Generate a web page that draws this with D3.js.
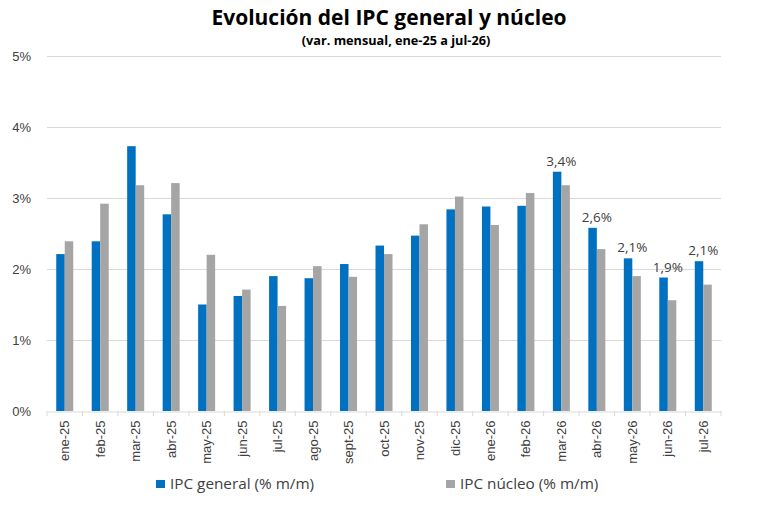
<!DOCTYPE html>
<html lang="es">
<head>
<meta charset="UTF-8">
<title>Evolución del IPC general y núcleo</title>
<script src="https://d3js.org/d3.v7.min.js"></script>
<style>
    body { margin: 0; background: #fff; }
    svg { display: block; font-family: "Open Sans", sans-serif; }
    .axis text { fill: #404040; font-size: 13px; }
    .grid line { stroke: #d9d9d9; }
</style>
</head>
<body>
<svg width="776" height="514"></svg>
<script>
    // datos (variación mensual, %)
    const months = ["ene-25", "feb-25", "mar-25", "abr-25", "may-25", "jun-25", "jul-25", "ago-25", "sept-25", "oct-25",
        "nov-25", "dic-25", "ene-26", "feb-26", "mar-26", "abr-26", "may-26", "jun-26", "jul-26"];
    const ipcGeneral = [2.21, 2.39, 3.73, 2.77, 1.50, 1.62, 1.90, 1.87, 2.07, 2.33,
        2.47, 2.84, 2.88, 2.89, 3.37, 2.58, 2.15, 1.88, 2.11];
    const ipcNucleo = [2.39, 2.92, 3.18, 3.21, 2.20, 1.71, 1.48, 2.04, 1.89, 2.21,
        2.63, 3.02, 2.62, 3.07, 3.18, 2.28, 1.90, 1.56, 1.78];
    const labelled = ["mar-26", "abr-26", "may-26", "jun-26", "jul-26"];
    const yTicks = [0, 1, 2, 3, 4, 5];

    const width = 776, height = 514;
    const margin = { top: 56, right: 55, bottom: 103, left: 47 };
    const svg = d3.select("svg");

    const x = d3.scaleBand()
        .domain(months)
        .range([margin.left, width - margin.right]);

    const inner = d3.scaleBand()
        .domain(["general", "nucleo"])
        .range([x.bandwidth() / 2 - 8.5, x.bandwidth() / 2 + 8.5]);

    const y = d3.scaleLinear()
        .domain([0, 5])
        .range([height - margin.bottom, margin.top]);

    // gridlines
    svg.append("g").attr("class", "grid")
        .selectAll("line")
        .data(yTicks.filter(d => d > 0))
        .enter().append("line")
        .attr("x1", margin.left).attr("x2", width - margin.right)
        .attr("y1", d => y(d) + 0.5).attr("y2", d => y(d) + 0.5);

    // eje y
    const yAxis = svg.append("g").attr("class", "axis")
        .attr("transform", `translate(${margin.left - 13},0)`)
        .call(d3.axisLeft(y).tickValues(yTicks).tickFormat(d => d + "%").tickSize(0));
    yAxis.select(".domain").remove();

    const rows = months.map((m, i) => ({ month: m, general: ipcGeneral[i], nucleo: ipcNucleo[i] }));

    // barras
    const groups = svg.append("g")
        .selectAll("g")
        .data(rows)
        .enter().append("g")
        .attr("transform", d => `translate(${x(d.month)},0)`);

    groups.append("rect")
        .attr("x", inner("general"))
        .attr("width", inner.bandwidth())
        .attr("y", d => y(d.general))
        .attr("height", d => y(0) - y(d.general))
        .attr("fill", "#0070c0");

    groups.append("rect")
        .attr("x", inner("nucleo"))
        .attr("width", inner.bandwidth())
        .attr("y", d => y(d.nucleo))
        .attr("height", d => y(0) - y(d.nucleo))
        .attr("fill", "#a5a5a5");

    // etiquetas de valor
    groups.filter(d => labelled.includes(d.month))
        .append("text")
        .attr("x", inner("nucleo"))
        .attr("y", d => y(d.general) - 6)
        .attr("text-anchor", "middle")
        .attr("font-size", 13.5)
        .attr("fill", "#404040")
        .text(d => d3.format(".1f")(d.general).replace(".", ",") + "%");

    // eje x
    const xAxis = svg.append("g").attr("class", "axis")
        .attr("transform", `translate(0,${y(0) + 0.5})`)
        .call(d3.axisBottom(x).tickSize(0).tickPadding(0));
    xAxis.select(".domain").attr("stroke", "#d9d9d9");
    xAxis.selectAll(".tick text")
        .attr("transform", "rotate(-90)")
        .attr("text-anchor", "end")
        .attr("x", -9)
        .attr("y", 0)
        .attr("dy", "0.35em");

    // separadores de categoría
    svg.append("g")
        .selectAll("line")
        .data(months.concat(["fin"]))
        .enter().append("line")
        .attr("x1", (d, i) => i < months.length ? x(d) : x.range()[1])
        .attr("x2", (d, i) => i < months.length ? x(d) : x.range()[1])
        .attr("y1", y(0)).attr("y2", y(0) + 5)
        .attr("stroke", "#d9d9d9");

    // título
    svg.append("text")
        .attr("x", 389).attr("y", 25)
        .attr("text-anchor", "middle")
        .attr("font-size", 21).attr("font-weight", "bold")
        .attr("fill", "#000")
        .text("Evolución del IPC general y núcleo");
    svg.append("text")
        .attr("x", 396).attr("y", 45)
        .attr("text-anchor", "middle")
        .attr("font-size", 12.7).attr("font-weight", "bold")
        .attr("fill", "#000")
        .text("(var. mensual, ene-25 a jul-26)");

    // leyenda
    const legend = svg.append("g")
        .selectAll("g")
        .data([
            { name: "IPC general (% m/m)", color: "#0070c0", x: 156 },
            { name: "IPC núcleo (% m/m)", color: "#a5a5a5", x: 446 }
        ])
        .enter().append("g")
        .attr("transform", d => `translate(${d.x},480)`);

    legend.append("rect")
        .attr("width", 9).attr("height", 8)
        .attr("fill", d => d.color);

    legend.append("text")
        .attr("x", 14).attr("y", 8.5)
        .attr("font-size", 15.3)
        .attr("fill", "#404040")
        .text(d => d.name);
</script>
</body>
</html>
